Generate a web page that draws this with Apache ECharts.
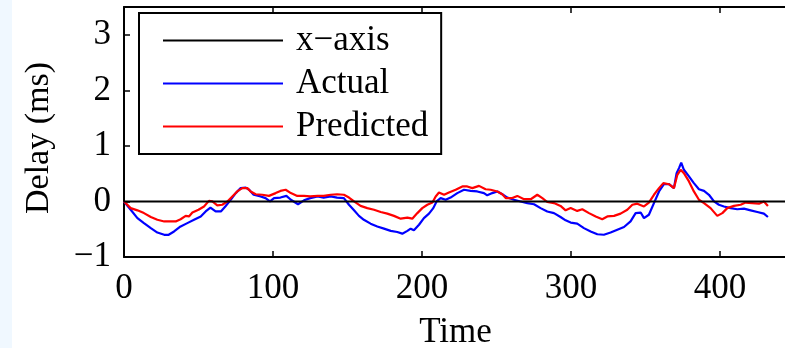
<!DOCTYPE html>
<html>
<head>
<meta charset="utf-8">
<script src="https://cdn.jsdelivr.net/npm/echarts@6/dist/echarts.min.js"></script>
<style>
html,body{margin:0;padding:0;background:#fff;}
#c{width:785px;height:348px;}
</style>
</head>
<body>
<div id="c"></div>
<script>
// ---- data ----
const xTicks = [0, 100, 200, 300, 400];
const yTicks = [-1, 0, 1, 2, 3];
const seriesNames = ["x\u2212axis", "Actual", "Predicted"];
const axisLineT = [0, 445];
const axisLineV = [0, 0];

const actualT = [0,1,4.5,9,13.4,18,22.4,27,30,33.6,38,42.5,47,51.5,54.8,58,61.5,65,68,71.6,75,78.3,81.7,84,87,91.7,95,98,100.7,105,109,112,116.8,120.8,125,130,134,138.7,143,147.6,
151,154.4,157.7,161,165.5,170,174.5,179,183.4,186.8,190.2,192.4,194.6,198,201.3,204.7,207.6,209.8,212.5,215.9,219.2,223.7,228.2,232.7,237.1,241.6,243.8,247.2,250.6,253.9,257.3,261.7,266.2,270.7,275.2,279.6,284.1,288.6,293,
296.4,299.8,304.2,308.7,313.2,317.7,322.1,326.6,331.1,335.6,340,343.4,346.8,349,352.3,355.7,359.1,362.4,365.8,369.1,370.9,372.5,374,375.8,379.2,382.5,385.9,389.3,392.6,396,399.3,402.7,407.2,411.6,416.1,420.6,425.1,429.5,432.2];
const actualV = [0,-0.03,-0.15,-0.30,-0.39,-0.48,-0.56,-0.60,-0.60,-0.54,-0.45,-0.39,-0.33,-0.27,-0.18,-0.11,-0.18,-0.18,-0.09,0.03,0.15,0.24,0.25,0.21,0.12,0.09,0.06,0.00,0.06,0.07,0.10,0.03,-0.05,0.02,0.06,0.09,0.07,0.09,0.07,0.06,
-0.06,-0.16,-0.26,-0.33,-0.40,-0.45,-0.49,-0.53,-0.55,-0.58,-0.53,-0.49,-0.52,-0.42,-0.30,-0.22,-0.12,0.00,0.06,0.03,0.07,0.15,0.21,0.19,0.18,0.15,0.11,0.15,0.18,0.13,0.07,0.03,0.00,-0.03,-0.05,-0.12,-0.18,-0.21,-0.28,
-0.34,-0.38,-0.40,-0.48,-0.54,-0.59,-0.60,-0.56,-0.51,-0.46,-0.36,-0.21,-0.20,-0.30,-0.24,-0.03,0.18,0.31,0.31,0.24,0.51,0.60,0.70,0.57,0.45,0.33,0.22,0.19,0.12,0.00,-0.06,-0.09,-0.12,-0.14,-0.13,-0.16,-0.19,-0.22,-0.28];

const predT = [0,1,4.5,9,13.4,18,22.4,27,31.3,34.7,38,41.4,43.6,45.9,50,53.7,57,59.3,62.6,66,69.4,72.7,76,79.4,82.8,85,88.4,92.8,97.3,101.8,105,108.5,112,116.3,120.8,125,130,134,138.7,143,147.6,
151,154.4,158.8,163.3,167.8,172.3,176.7,181.2,185.7,190.2,193.5,196.9,200.2,203.6,207,209.2,211.4,214.8,218.1,222.6,227.1,230.4,233.8,238.3,242.7,246.1,250.6,253.9,256.2,260.6,264,268.5,273,277.4,280.8,284.1,288.6,293,
296.4,299.8,304.2,307.6,312.1,316.6,321,324.4,328.9,333.3,337.8,341.2,344.5,349,352.3,355.7,359.1,362,365.8,369.1,371.4,373.6,375.8,379.2,382.5,385.9,389.3,393.7,398.2,401.6,404.9,409.4,413.9,417.2,421.7,426.2,429.5,432.2];
const predV = [0,-0.03,-0.12,-0.16,-0.21,-0.28,-0.33,-0.36,-0.36,-0.36,-0.32,-0.26,-0.27,-0.20,-0.15,-0.09,0.01,0.00,-0.07,-0.06,0.00,0.09,0.18,0.24,0.24,0.18,0.13,0.12,0.10,0.15,0.19,0.21,0.15,0.10,0.10,0.09,0.10,0.10,0.12,0.13,0.12,
0.07,0.00,-0.08,-0.12,-0.15,-0.19,-0.22,-0.26,-0.31,-0.29,-0.31,-0.21,-0.12,-0.06,-0.02,0.09,0.16,0.12,0.16,0.21,0.27,0.27,0.24,0.28,0.22,0.21,0.18,0.13,0.06,0.06,0.10,0.04,0.04,0.12,0.06,-0.01,-0.03,-0.08,
-0.16,-0.12,-0.17,-0.14,-0.21,-0.27,-0.32,-0.27,-0.26,-0.22,-0.15,-0.06,-0.04,-0.09,-0.02,0.12,0.24,0.33,0.31,0.24,0.48,0.57,0.51,0.36,0.18,0.03,-0.03,-0.12,-0.26,-0.21,-0.12,-0.08,-0.06,-0.02,-0.03,-0.04,0.00,-0.08];

const xName = "Time";
const yName = "Delay (ms)";

// ---- chart ----
const FONT = "Liberation Serif";
const zip = (a, b) => a.map((v, i) => [v, b[i]]);
const minus = v => String(v).replace('-', '\u2212');

const chart = echarts.init(document.getElementById('c'), null, {renderer: 'canvas'});
const axisCommon = () => ({
  axisLine: {show: true, onZero: false, lineStyle: {color: '#000', width: 2}},
  axisTick: {show: true, inside: true, length: 6, lineStyle: {color: '#000', width: 1.5}},
  splitLine: {show: false}
});
chart.setOption({
  animation: false,
  backgroundColor: '#fff',
  graphic: [{type: 'rect', left: 0, top: 0, shape: {width: 12, height: 348}, style: {fill: '#f0f8ff'}, z: -10}],
  grid: {left: 124, top: 7, width: 663, height: 250, containLabel: false, outerBoundsMode: 'none'},
  xAxis: [
    Object.assign(axisCommon(), {
      type: 'value', min: xTicks[0], max: 445, interval: 100, position: 'bottom',
      name: xName, nameLocation: 'middle', nameGap: 58,
      nameTextStyle: {fontFamily: FONT, fontSize: 35, color: '#000'},
      axisLabel: {fontFamily: FONT, fontSize: 35, color: '#000', margin: 14, showMaxLabel: false,
        formatter: v => xTicks.includes(v) ? minus(v) : ''}
    }),
    Object.assign(axisCommon(), {
      type: 'value', min: xTicks[0], max: 445, interval: 100, position: 'top',
      axisLabel: {show: false}
    })
  ],
  yAxis: [
    Object.assign(axisCommon(), {
      type: 'value', min: yTicks[0], max: 3.5, interval: 1, position: 'left',
      name: yName, nameLocation: 'middle', nameGap: 68, nameRotate: 90,
      nameTextStyle: {fontFamily: FONT, fontSize: 34, color: '#000', padding: [0, 12, 0, 0]},
      axisLabel: {fontFamily: FONT, fontSize: 35, color: '#000', margin: 13, showMaxLabel: false,
        formatter: v => yTicks.includes(v) ? minus(v) : ''}
    }),
    Object.assign(axisCommon(), {
      type: 'value', min: yTicks[0], max: 3.5, interval: 1, position: 'right',
      axisTick: {show: false},
      axisLabel: {show: false}
    })
  ],
  legend: {
    orient: 'vertical', left: 139, top: 13,
    padding: [6, 13, 6, 24],
    borderColor: '#000', borderWidth: 2, backgroundColor: '#fff',
    itemWidth: 120, itemHeight: 2, itemGap: 0, icon: 'rect',
    textStyle: {fontFamily: FONT, fontSize: 35, color: '#000', lineHeight: 43, padding: [0, 0, 0, 8]},
    data: seriesNames
  },
  series: [
    {name: seriesNames[0], type: 'line', data: zip(axisLineT, axisLineV), symbol: 'none',
      lineStyle: {color: '#000', width: 2}, itemStyle: {color: '#000'}, z: 3},
    {name: seriesNames[1], type: 'line', data: zip(actualT, actualV), symbol: 'none',
      lineStyle: {color: '#0000ff', width: 2.2}, itemStyle: {color: '#0000ff'}, z: 2},
    {name: seriesNames[2], type: 'line', data: zip(predT, predV), symbol: 'none',
      lineStyle: {color: '#ff0000', width: 2.2}, itemStyle: {color: '#ff0000'}, z: 2}
  ]
});
</script>
</body>
</html>
